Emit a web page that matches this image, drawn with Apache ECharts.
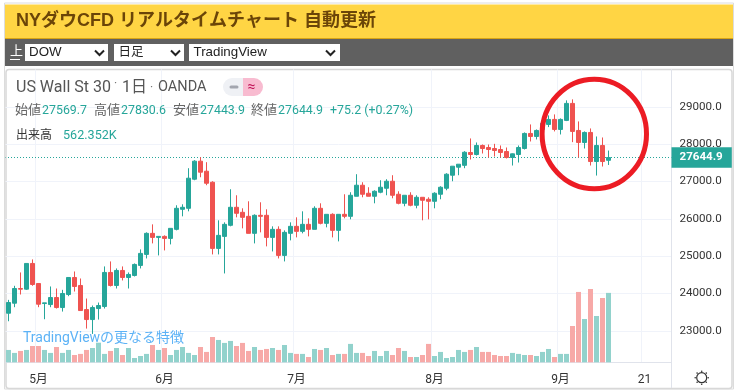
<!DOCTYPE html>
<html><head><meta charset="utf-8">
<style>html,body{margin:0;padding:0;background:#fff}#c{width:735px;height:392px}</style>
<script src="https://cdn.jsdelivr.net/npm/echarts@6/dist/echarts.min.js"></script>
</head><body><div id="c"></div>
<script>
const categories = ['4/24','4/27','4/28','4/29','4/30','5/1','5/4','5/5','5/6','5/7','5/8','5/11','5/12','5/13','5/14','5/15','5/18','5/19','5/20','5/21','5/22','5/25','5/26','5/27','5/28','5/29','6/1','6/2','6/3','6/4','6/5','6/8','6/9','6/10','6/11','6/12','6/15','6/16','6/17','6/18','6/19','6/22','6/23','6/24','6/25','6/26','6/29','6/30','7/1','7/2','7/3','7/6','7/7','7/8','7/9','7/10','7/13','7/14','7/15','7/16','7/17','7/20','7/21','7/22','7/23','7/24','7/27','7/28','7/29','7/30','7/31','8/3','8/4','8/5','8/6','8/7','8/10','8/11','8/12','8/13','8/14','8/17','8/18','8/19','8/20','8/21','8/24','8/25','8/26','8/27','8/28','8/31','9/1','9/2','9/3','9/4','9/7','9/8','9/9','9/10','9/11','9/14','9/15','9/16','9/17','9/18','9/21','9/22','9/23','9/24','9/25'];
const tickLabels = {'5/1':'5月','6/1':'6月','7/1':'7月','8/3':'8月','9/1':'9月','9/21':'21'};
const priceTicks = [23000,24000,25000,26000,27000,28000,29000];
const opens = [23474,23742,24136,24118,24807,24270,23733,23706,23894,23626,23975,24431,24217,23572,23304,23599,23653,24566,24217,24619,24431,24485,24754,25049,25613,25505,25532,25478,25720,26257,26284,27063,27546,27277,26982,25210,25532,25828,26311,26177,26069,25613,26096,26096,25505,25720,25022,25613,25801,25666,25854,25720,26284,25881,26123,25693,26123,26069,26606,26902,26687,26606,26714,26821,27009,26660,26418,26633,26365,26579,26526,26472,26660,26821,27170,27385,27435,27779,27725,27967,27913,27886,27859,27805,27644,27725,27886,28289,28208,28396,28530,28665,28396,28638,29094,28369,28047,28316,27537,27967,27569.7];
const closes = [23760,24136,24118,24807,24243,23715,23751,23894,23626,24002,24431,24190,23545,23304,23626,23680,24566,24217,24619,24431,24512,24780,25076,25613,25505,25532,25478,25747,26284,26311,27090,27546,27251,26955,25210,25559,25854,26311,26150,26042,25613,26096,26069,25505,25720,25022,25640,25801,25666,25854,25720,26284,25881,26123,25693,26123,26069,26633,26902,26660,26606,26740,26848,27009,26633,26418,26633,26365,26579,26499,26472,26687,26848,27197,27412,27465,27785,27725,27967,27886,27859,27832,27779,27644,27743,27913,28289,28208,28369,28557,28665,28396,28665,29094,28343,28047,28316,27537,27967,27537,27644.9];
const lows = [23259,23635,23975,24100,24208,23635,23313,23635,23599,23518,23930,24055,23545,23062,22919,23304,23599,24190,24136,24351,24136,24458,24673,24941,25344,25022,25156,25317,25693,26069,26203,27036,27116,26902,25049,25049,24539,25801,26042,25747,25613,25344,25640,25264,25129,24941,24861,25425,25505,25613,25532,25720,25854,25774,25505,25398,26015,25989,26606,26579,26606,26418,26687,26633,26552,26391,26338,26338,26284,25962,25989,26284,26526,26767,27009,27170,27358,27591,27698,27752,27644,27671,27644,27618,27430,27510,27859,28074,28128,28369,28459,28343,28262,28620,28056,27644,27886,27430,27161,27403,27443.9];
const highs = [23832,24208,24566,24807,24915,24270,23751,24190,24136,24100,24431,24592,24404,23867,23680,23760,24727,24861,24673,24727,24566,24807,25183,25640,25854,25532,25559,25747,26365,26391,27358,27573,27653,27519,27009,25962,25908,26794,26633,26284,26472,26123,26445,26257,25801,25801,25693,25908,26042,26203,26015,26338,26418,26123,26150,26123,26660,26714,27197,26982,26848,26767,27036,27063,27170,26740,26633,26714,26633,26579,26579,26714,26875,27224,27412,27465,27814,28155,28047,27993,27993,28011,27967,27913,27752,27967,28316,28530,28396,28683,28772,28799,28692,29175,29202,28611,28343,28423,28208,28181,27830.6];
const volumes = [100,76,92,100,132,132,100,76,124,76,100,59,68,100,116,159,68,92,116,59,116,35,51,68,140,100,116,59,100,124,76,59,124,84,205,181,157,173,132,157,92,124,100,108,116,100,140,76,68,68,43,108,100,116,59,68,68,149,76,76,51,92,51,92,59,116,92,43,43,59,149,51,84,35,43,100,84,100,124,84,84,59,51,51,76,68,59,59,51,84,108,43,68,68,294,570,351,594,375,521,562.352];

const UP='#26a69a', DOWN='#ef5350', UPV='#92d2cc', DOWNV='#f7a9a7';
const CJK="Roboto,'Noto Sans CJK JP',sans-serif";
const ARIAL="'Liberation Sans','Noto Sans CJK JP',sans-serif";
const last=opens.length-1;
const chg=closes[last]-opens[last];

function txt(x,y,t,size,fill,extra){const e=extra||{};const fam=e.fam||CJK;const st=Object.assign({},e);delete st.fam;delete st.bold;return {type:'text',z:60,silent:true,style:Object.assign({x:x,y:y,text:t,font:(e.bold?'bold ':'')+size+'px '+fam,fill:fill,textVerticalAlign:'middle'},st)};}
function rect(x,y,w,h,fill,z,extra){return {type:'rect',z:z,silent:true,shape:Object.assign({x:x,y:y,width:w,height:h},extra&&extra.r?{r:extra.r}:{}),style:Object.assign({fill:fill},extra&&extra.style||{})};}
function chev(x,y){return {type:'polyline',z:60,silent:true,shape:{points:[[x,y],[x+4.5,y+4.5],[x+9,y]]},style:{stroke:'#222',lineWidth:2,fill:null}};}
const gearTicks=[];
[[0,-6.5],[4.6,-4.6],[6.5,0],[4.6,4.6],[0,6.5],[-4.6,4.6],[-6.5,0],[-4.6,-4.6]].forEach(p=>{
  gearTicks.push({type:'circle',z:60,silent:true,shape:{cx:701.7+p[0],cy:377.7+p[1],r:0.8},style:{fill:'#333'}});
});
const graphics=[
  rect(4.5,3,729,386,'#fff',-2,{style:{stroke:'#dcdcdc',lineWidth:1}}),
  rect(5,4.5,728,33.5,'#ffd544',-1),
  rect(5,38,728,1,'#d9a514',-1),
  rect(5,39,728,27,'#606060',-1),
  rect(6,69.5,726,319,'#fff',-1,{r:3,style:{stroke:'#d8d8d8',lineWidth:1.5}}),
  txt(16,21,'NYダウCFD リアルタイムチャート 自動更新',18,'#6b4508',{bold:true,fam:ARIAL,textShadowColor:'#fff3c4',textShadowOffsetX:1,textShadowOffsetY:1,textShadowBlur:0}),
  txt(10,52,'上',13,'#fff'),
  rect(10,59,10,1,'#fff',60),
  rect(25,44,83,17,'#fff',50),txt(29,52.5,'DOW',13.33,'#222',{fam:ARIAL}),chev(95,50.5),
  rect(114,44,70,17,'#fff',50),txt(118.5,52.5,'日足',12.5,'#222',{fam:ARIAL}),chev(171,50.5),
  rect(189,44,151,17,'#fff',50),txt(193.5,52.5,'TradingView',13.33,'#222',{fam:ARIAL}),chev(326,50.5),
  txt(16,87.5,'US Wall St 30',16,'#555'),
  txt(114,84,'·',12,'#777'),txt(122,87.5,'1日',16,'#555'),txt(150,87.5,'·',12,'#777'),txt(158,87.5,'OANDA',14.5,'#555'),
  rect(223,78,21,18,'#eff1f5',55,{r:[9,0,0,9]}),
  rect(243,78,20,18,'#f8bbd0',55,{r:[0,9,9,0]}),
  rect(229.5,85.5,9,3,'#a3a6af',60,{r:1.5}),
  txt(247.5,87,'≈',14,'#c2185b'),
  txt(15,111,'始値',13,'#666'),txt(42,111,opens[last].toFixed(1),12.4,UP),
  txt(94,111,'高値',13,'#666'),txt(121,111,highs[last].toFixed(1),12.4,UP),
  txt(173,111,'安値',13,'#666'),txt(200,111,lows[last].toFixed(1),12.4,UP),
  txt(251,111,'終値',13,'#666'),txt(278,111,closes[last].toFixed(1),12.4,UP),
  txt(330,111,'+'+chg.toFixed(1)+' (+'+(chg/opens[last]*100).toFixed(2)+'%)',12.4,UP),
  txt(16,136,'出来高',12,'#333'),txt(63,136,volumes[last].toFixed(3)+'K',12.6,UP),
  txt(23,338,'TradingViewの更なる特徴',14,'#5cb2f6',{}),
  {type:'line',z:1,silent:true,shape:{x1:671.5,y1:368,x2:671.5,y2:388},style:{stroke:'#e0e3eb',lineWidth:1}},
  {type:'circle',z:60,silent:true,shape:{cx:701.7,cy:377.7,r:5},style:{stroke:'#333',lineWidth:1.2,fill:'#fff'}},
  ...gearTicks,
  {type:'ellipse',z:70,silent:true,shape:{cx:594.3,cy:134,rx:52.2,ry:54.8},style:{stroke:'#ec1c24',lineWidth:5,fill:null}}
];

const chart=echarts.init(document.getElementById('c'),null,{renderer:'canvas'});
const showTick=(i,v)=>tickLabels[v]!==undefined;
chart.setOption({
  animation:false,
  backgroundColor:'#fff',
  textStyle:{fontFamily:CJK},
  graphic:graphics,
  grid:[
    {left:5.5,width:666,top:69.57,height:298.67},
    {left:5.5,width:666,top:69.5,height:292.8}
  ],
  xAxis:[
    {type:'category',gridIndex:0,data:categories,show:false},
    {type:'category',gridIndex:1,data:categories,
     axisLine:{show:true,lineStyle:{color:'#e0e3eb'}},axisTick:{show:false},
     splitLine:{show:true,interval:showTick,lineStyle:{color:'#f0f3fa'}},
     axisLabel:{interval:showTick,formatter:v=>tickLabels[v],color:'#333',fontSize:12,margin:11.5,fontFamily:CJK}}
  ],
  yAxis:[
    {type:'value',gridIndex:0,position:'right',min:22000,max:30000,interval:1000,
     axisLine:{show:true,lineStyle:{color:'#e0e3eb'}},axisTick:{show:false},
     splitLine:{show:true,showMinLine:false,showMaxLine:false,lineStyle:{color:'#f0f3fa'}},
     axisLabel:{showMinLabel:false,showMaxLabel:false,margin:8,color:'#333',fontSize:11.6,fontFamily:CJK,padding:[2,0,0,0],
       formatter:v=>priceTicks.includes(v)?v.toFixed(1):''}},
    {type:'value',gridIndex:1,min:0,max:2372,show:false,splitLine:{show:false}}
  ],
  series:[
    {type:'bar',name:'出来高',xAxisIndex:1,yAxisIndex:1,z:1,barWidth:5,silent:true,
     data:volumes.map((v,i)=>({value:v,itemStyle:{color:closes[i]>=opens[i]?UPV:DOWNV}}))},
    {type:'candlestick',name:'US Wall St 30',xAxisIndex:0,yAxisIndex:0,z:3,barWidth:5,silent:true,
     data:opens.map((o,i)=>[o,closes[i],lows[i],highs[i]]),
     itemStyle:{color:UP,color0:DOWN,borderColor:UP,borderColor0:DOWN,borderWidth:1},
     markLine:{silent:true,symbol:'none',animation:false,z:2,
       lineStyle:{type:[1,2],dashOffset:0.5,color:UP,width:1,opacity:1},
       label:{position:'end',distance:0,color:'#fff',fontWeight:'bold',fontSize:11.6,fontFamily:CJK,
         backgroundColor:UP,padding:[5,9,4,8],formatter:p=>Number(p.value).toFixed(1)},
       data:[{yAxis:closes[last]}]}}
  ]
});
</script></body></html>
